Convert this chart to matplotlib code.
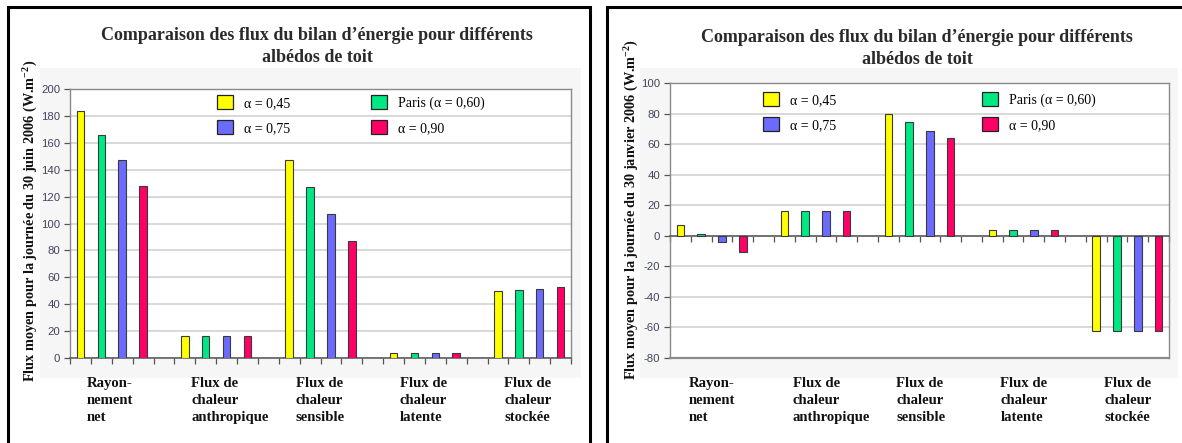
import matplotlib
matplotlib.use("Agg")
import matplotlib.pyplot as plt
from matplotlib.patches import Rectangle
from matplotlib.transforms import blended_transform_factory, offset_copy
import numpy as np

# ---- data -------------------------------------------------------------
categories = ["Rayon-\nnement\nnet",
              "Flux de\nchaleur\nanthropique",
              "Flux de\nchaleur\nsensible",
              "Flux de\nchaleur\nlatente",
              "Flux de\nchaleur\nstockée"]

series_labels = ["α = 0,45", "Paris (α = 0,60)", "α = 0,75", "α = 0,90"]

# June 30, 2006 (W.m-2), one list per albedo
juin_045 = [184, 16, 147, 4, 49.5]
juin_060 = [166, 16, 127, 4, 50.7]
juin_075 = [147, 16, 107, 4, 51.5]
juin_090 = [128, 16, 87, 4, 53]

# January 30, 2006 (W.m-2)
janv_045 = [7, 16, 80, 4, -62]
janv_060 = [1, 16, 74.5, 4, -62]
janv_075 = [-4, 16, 68.5, 4, -62]
janv_090 = [-10.5, 16, 64, 4, -62]

title_lines = ["Comparaison des flux du bilan d\u2019énergie pour différents",
               "albédos de toit"]
ylabel_juin = r"Flux moyen pour la journée du 30 juin 2006 (W.m$^{\mathbf{-2}}$)"
ylabel_janv = r"Flux moyen pour la journée du 30 janvier 2006 (W.m$^{\mathbf{-2}}$)"

juin_ticks = list(range(0, 201, 20))
janv_ticks = list(range(-80, 101, 20))

# ---- style ------------------------------------------------------------
colors = ["#FFFF00", "#00E884", "#6B6BFF", "#FF0066"]
edge = "#3a3a3a"
serif = "Liberation Serif"
sans = "Liberation Sans"
tick_color = "#44445f"
grid_color = "#d6d6d6"
frame_color = "#8a8a8a"

plt.rcParams["mathtext.fontset"] = "custom"
plt.rcParams["mathtext.rm"] = serif
plt.rcParams["mathtext.bf"] = serif + ":bold"

W, H = 1182, 443
fig = plt.figure(figsize=(W / 100, H / 100), dpi=100)
fig.patch.set_facecolor("white")


def px_rect(x0, y0, x1, y1):
    """Figure-fraction rectangle from pixel corners (origin top-left)."""
    return [x0 / W, 1 - y1 / H, (x1 - x0) / W, (y1 - y0) / H]


def draw_panel(frame_box, shade_box, ax_box, values, ticks, ylim, ylabel,
               ylabel_pos, title_x, title_ys, legend_anchor, legend_colgap,
               label_offset):
    # panel frame and light chart-area shading
    sx0, sy0, sx1, sy1 = shade_box
    fig.patches.append(Rectangle((sx0 / W, 1 - sy1 / H), (sx1 - sx0) / W,
                                 (sy1 - sy0) / H, transform=fig.transFigure,
                                 facecolor="#f6f6f6", edgecolor="none",
                                 zorder=-2))
    fx0, fy0, fx1, fy1 = frame_box
    fig.patches.append(Rectangle((fx0 / W, 1 - fy1 / H), (fx1 - fx0) / W,
                                 (fy1 - fy0) / H, transform=fig.transFigure,
                                 facecolor="none", edgecolor="black",
                                 linewidth=2.2, zorder=-1))

    ax = fig.add_axes(px_rect(*ax_box))
    ax.set_zorder(2)
    ax.set_facecolor("white")
    n_groups = len(categories)
    slots_per_group = 5
    n_slots = n_groups * slots_per_group - 1
    group_start = np.arange(n_groups) * slots_per_group

    handles = []
    for i, (vals, col, lab) in enumerate(zip(values, colors, series_labels)):
        b = ax.bar(group_start + i + 0.5, vals, width=0.36, color=col,
                   edgecolor=edge, linewidth=0.8, label=lab, zorder=3)
        handles.append(b)

    ax.set_xlim(0, n_slots)
    ax.set_ylim(*ylim)
    ax.set_yticks(ticks)
    ax.set_yticklabels([str(t) for t in ticks], fontfamily=sans,
                       fontsize=8.2, color=tick_color)
    ax.yaxis.grid(True, color=grid_color, linewidth=1.3, zorder=0)
    ax.set_axisbelow(True)

    ax.set_xticks(np.arange(0, n_slots + 1))
    ax.set_xticklabels([])
    ax.tick_params(axis="x", direction="out", length=4, width=0.9,
                   color="#555555")
    ax.tick_params(axis="y", direction="out", length=4, width=0.9,
                   color="#555555", pad=3)

    for s in ["top", "right", "left"]:
        ax.spines[s].set_color(frame_color)
        ax.spines[s].set_linewidth(1.0)
    ax.spines["bottom"].set_position(("data", 0))
    ax.spines["bottom"].set_color("#555555")
    ax.spines["bottom"].set_linewidth(1.1)
    if ylim[0] < 0:
        ax.axhline(ylim[0], color=frame_color, linewidth=1.6, zorder=4,
                   clip_on=False)

    # legend: column 1 = 0.45 / 0.75, column 2 = Paris / 0.90
    order = [0, 2, 1, 3]
    leg = ax.legend([handles[k] for k in order],
                    [series_labels[k] for k in order], ncol=2,
                    loc="upper left", bbox_to_anchor=legend_anchor,
                    bbox_transform=fig.transFigure, frameon=False,
                    prop={"family": serif, "size": 10},
                    handlelength=1.15, handleheight=1.22,
                    handletextpad=0.8, labelspacing=0.72,
                    columnspacing=legend_colgap, borderpad=0,
                    borderaxespad=0)
    for p in leg.get_patches():
        p.set_edgecolor("#222222")
        p.set_linewidth(0.9)

    # group labels below the plot
    trans = blended_transform_factory(ax.transData, fig.transFigure)
    trans = offset_copy(trans, fig=fig, x=label_offset, y=0, units="dots")
    for g, cat in enumerate(categories):
        ax.text(group_start[g] + 2, 1 - 377 / H, cat, transform=trans,
                ha="left", va="top", fontfamily=serif, fontweight="bold",
                fontsize=10.6, linespacing=1.4, color="#111111")

    # title and vertical label
    for ty, line in zip(title_ys, title_lines):
        fig.text(title_x / W, 1 - ty / H, line, ha="center", va="center",
                 fontfamily=serif, fontweight="bold", fontsize=13,
                 color="#2a2a2a")
    fig.text(ylabel_pos[0] / W, 1 - ylabel_pos[1] / H, ylabel,
             rotation=90, ha="center", va="center", fontfamily=serif,
             fontweight="bold", fontsize=10.3, color="#111111")
    return ax


juin_values = [juin_045, juin_060, juin_075, juin_090]
janv_values = [janv_045, janv_060, janv_075, janv_090]

draw_panel(frame_box=(8, 7, 590, 460), shade_box=(40, 68, 581, 378),
           ax_box=(70, 89, 571, 358), values=juin_values, ticks=juin_ticks,
           ylim=(0, 200), ylabel=ylabel_juin, ylabel_pos=(30, 221),
           title_x=317, title_ys=(35, 57),
           legend_anchor=(217 / W, 1 - 95 / H), legend_colgap=5.8,
           label_offset=-25)

draw_panel(frame_box=(607, 7, 1200, 460), shade_box=(640, 68, 1178, 378),
           ax_box=(670, 83, 1169, 358), values=janv_values, ticks=janv_ticks,
           ylim=(-80, 100), ylabel=ylabel_janv, ylabel_pos=(631, 209),
           title_x=917, title_ys=(37, 59),
           legend_anchor=(763 / W, 1 - 92 / H), legend_colgap=10.5,
           label_offset=-23)

fig.savefig("out.png", dpi=100)
